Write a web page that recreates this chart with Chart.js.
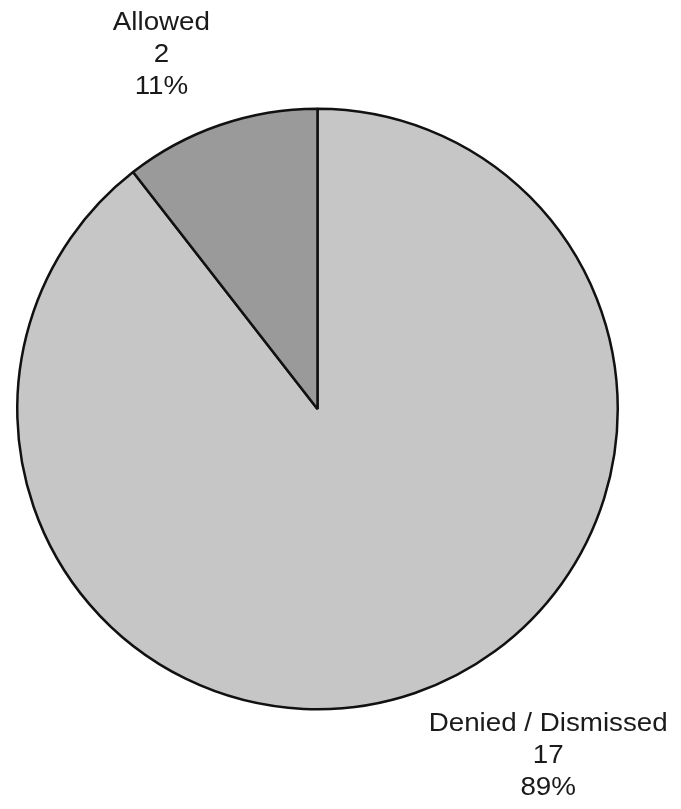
<!DOCTYPE html>
<html>
<head>
<meta charset="utf-8">
<script src="https://cdn.jsdelivr.net/npm/chart.js@4/dist/chart.umd.min.js"></script>
<style>
  html, body { margin: 0; padding: 0; background: #fff; }
  #wrap { width: 681px; height: 809px; }
</style>
</head>
<body>
<div id="wrap"><canvas id="pieChart" width="681" height="809"></canvas></div>
<script>
const categories = ['Denied / Dismissed', 'Allowed'];
const counts = [17, 2];
const percentLabels = ['89%', '11%'];

const sliceColors = ['#c6c6c6', '#9a9a9a'];

// label anchors as fractions of the canvas (centre of the text block)
const labelAnchors = [
    { x: 0.805, y: 0.935 },
    { x: 0.237, y: 0.068 }
];

const outsideLabels = {
    id: 'outsideLabels',
    afterDraw(chart) {
        const ctx = chart.ctx;
        const stretch = 1.11; // scanned text is a little wider than the font
        ctx.save();
        ctx.fillStyle = '#1a1a1a';
        ctx.font = '25px "Liberation Sans", Arial, sans-serif';
        ctx.textAlign = 'center';
        ctx.textBaseline = 'middle';
        const lineH = 32;
        categories.forEach((name, i) => {
            const cx = labelAnchors[i].x * chart.width;
            const cy = labelAnchors[i].y * chart.height;
            const lines = [name, String(counts[i]), percentLabels[i]];
            lines.forEach((t, k) => {
                ctx.save();
                ctx.translate(cx, cy + (k - 1) * lineH);
                ctx.scale(stretch, 1);
                ctx.fillText(t, 0, 0);
                ctx.restore();
            });
        });
        ctx.restore();
    }
};

document.addEventListener('DOMContentLoaded', () => {
    const ctx = document.getElementById('pieChart').getContext('2d');
    new Chart(ctx, {
        type: 'pie',
        data: {
            labels: categories,
            datasets: [{
                data: counts,
                backgroundColor: sliceColors,
                borderColor: '#111',
                borderWidth: 2.5
            }]
        },
        options: {
            responsive: false,
            animation: false,
            layout: { padding: { left: 16, right: 62, top: 107, bottom: 98 } },
            plugins: {
                legend: { display: false },
                tooltip: { enabled: false }
            }
        },
        plugins: [outsideLabels]
    });
});
</script>
</body>
</html>
